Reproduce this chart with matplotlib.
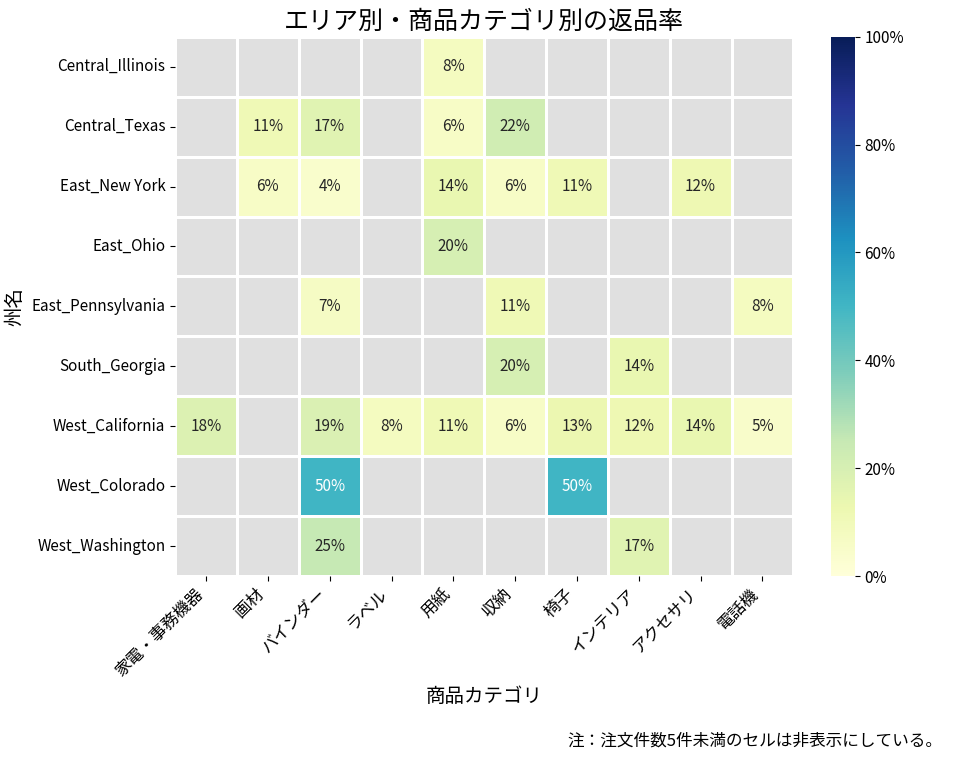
import numpy as np
import pandas as pd
import matplotlib
matplotlib.use("Agg")
import matplotlib.pyplot as plt
import seaborn as sns
from matplotlib.colors import ListedColormap
from matplotlib.ticker import PercentFormatter

plt.rcParams['font.family'] = ['Noto Sans CJK JP', 'DejaVu Sans']

states = ['Central_Illinois', 'Central_Texas', 'East_New York', 'East_Ohio',
          'East_Pennsylvania', 'South_Georgia', 'West_California',
          'West_Colorado', 'West_Washington']
categories = ['家電・事務機器', '画材', 'バインダー', 'ラベル', '用紙', '収納',
              '椅子', 'インテリア', 'アクセサリ', '電話機']
n = np.nan
rates = [
    [n, n, n, n, 0.08, n, n, n, n, n],
    [n, 0.11, 0.17, n, 0.06, 0.22, n, n, n, n],
    [n, 0.06, 0.04, n, 0.14, 0.06, 0.11, n, 0.12, n],
    [n, n, n, n, 0.20, n, n, n, n, n],
    [n, n, 0.07, n, n, 0.11, n, n, n, 0.08],
    [n, n, n, n, n, 0.20, n, 0.14, n, n],
    [0.18, n, 0.19, 0.08, 0.11, 0.06, 0.13, 0.12, 0.14, 0.05],
    [n, n, 0.50, n, n, n, 0.50, n, n, n],
    [n, n, 0.25, n, n, n, n, 0.17, n, n],
]
df = pd.DataFrame(rates, index=states, columns=categories)

fig = plt.figure(figsize=(9.57, 7.66), dpi=100)
ax = fig.add_axes([0.183, 0.248, 0.646, 0.704])
cax = fig.add_axes([0.868, 0.248, 0.025, 0.704])

# grey background cells
sns.heatmap(np.zeros(df.shape), cmap=ListedColormap(['#e0e0e0']), cbar=False,
            linewidths=2, linecolor='white', ax=ax)
sns.heatmap(df, cmap='YlGnBu', vmin=0, vmax=1, annot=True, fmt='.0%',
            annot_kws={'size': 11}, linewidths=2, linecolor='white',
            ax=ax, cbar_ax=cax)

cax.yaxis.set_major_formatter(PercentFormatter(1.0, decimals=0))
cax.tick_params(labelsize=11)
for s in cax.spines.values():
    s.set_visible(False)

ax.set_xticklabels(categories, rotation=45, ha='right', fontsize=12)
ax.set_yticklabels(states, rotation=0, fontsize=11)
ax.set_xlabel('商品カテゴリ', fontsize=14)
ax.set_ylabel('州名', fontsize=14)
ax.set_title('エリア別・商品カテゴリ別の返品率', fontsize=18, pad=6)

fig.text(0.985, 0.022, '注：注文件数5件未満のセルは非表示にしている。',
         ha='right', va='bottom', fontsize=12)

fig.savefig('out.png', dpi=100)
